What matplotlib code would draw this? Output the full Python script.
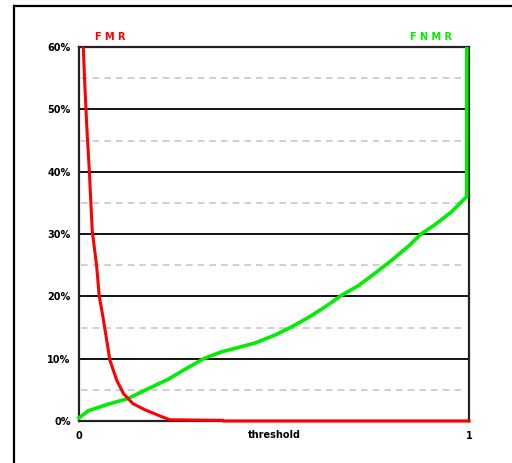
import numpy as np
import matplotlib
matplotlib.use("Agg")
import matplotlib.pyplot as plt
from matplotlib.lines import Line2D
from matplotlib.patches import Rectangle

# threshold values and error rates (%)
fmr_t = [0.0, 0.008, 0.011, 0.015, 0.021, 0.026, 0.030, 0.034, 0.045, 0.052, 0.060,
         0.071, 0.079, 0.097, 0.114, 0.138, 0.169, 0.212, 0.233, 0.369, 0.370, 1.0]
fmr = [100, 70, 60, 53.7, 46, 40.7, 35.5, 30.5, 25, 20.0, 17.2,
       13, 9.8, 6.5, 4.4, 2.8, 1.8, 0.7, 0.2, 0.1, 0.0, 0.0]

fnmr_t = [0.0, 0.024, 0.075, 0.126, 0.178, 0.229, 0.272, 0.323, 0.366, 0.409, 0.451,
          0.503, 0.545, 0.588, 0.631, 0.674, 0.716, 0.759, 0.802, 0.844, 0.879,
          0.913, 0.956, 0.994, 0.995]
fnmr = [0.5, 1.65, 2.7, 3.6, 5.2, 6.7, 8.3, 10.1, 11.1, 11.8, 12.5,
        13.8, 15.1, 16.6, 18.3, 20.2, 21.7, 23.7, 25.8, 28.0, 30.1,
        31.5, 33.6, 36.0, 100]

major_ticks = [0, 10, 20, 30, 40, 50, 60]
minor_lines = [5, 15, 25, 35, 45, 55]
ytick_labels = ["0%", "10%", "20%", "30%", "40%", "50%", "60%"]
xtick_vals = [0, 1]
xtick_labels = ["0", "1"]

W, H = 512, 463
fig = plt.figure(figsize=(W / 100, H / 100), dpi=100)
fig.patch.set_facecolor("white")

# outer frame (left and top edges visible)
fig.add_artist(Line2D([13.5 / W, 13.5 / W], [0, 1 - 5.5 / H], transform=fig.transFigure,
                      color="black", lw=1.6))
fig.add_artist(Line2D([13.5 / W, 1], [1 - 5.5 / H, 1 - 5.5 / H], transform=fig.transFigure,
                      color="black", lw=1.6))

left, right = 79 / W, 469 / W
bottom, top = 1 - 421 / H, 1 - 47 / H
ax = fig.add_axes([left, bottom, right - left, top - bottom])
ax.set_xlim(0, 1)
ax.set_ylim(0, 60)

for y in minor_lines:
    ax.axhline(y, xmin=0.005, xmax=0.99, color="#c8c8c8", lw=1.2, ls=(0, (4, 3)), zorder=1)
for y in major_ticks[1:-1]:
    ax.axhline(y, color="black", lw=1.3, zorder=1)

clip_rect = Rectangle((-0.01, -3), 1.02, 63, transform=ax.transData)
g, = ax.plot(fnmr_t, fnmr, color="#00ee00", lw=2.6,
             solid_joinstyle="miter", zorder=3)
r, = ax.plot(fmr_t, fmr, color="#ff0000", lw=2.2,
             solid_joinstyle="miter", zorder=4)
for ln in (g, r):
    ln.set_clip_path(clip_rect)

for s in ax.spines.values():
    s.set_linewidth(1.6)
    s.set_color("#222222")
    s.set_zorder(2)

ax.set_yticks(major_ticks)
ax.set_yticklabels(ytick_labels, fontsize=7, fontweight="bold", family="DejaVu Sans")
ax.set_xticks(xtick_vals)
ax.set_xticklabels(xtick_labels, fontsize=7, fontweight="bold", family="DejaVu Sans")
ax.tick_params(axis="y", length=0, pad=6)
ax.tick_params(axis="x", length=0, pad=7)

ax.text(0.5, -0.037, "threshold", transform=ax.transAxes, ha="center", va="center",
        fontsize=7, fontweight="bold", family="DejaVu Sans")
fig.text(110 / W, 1 - 37 / H, "F M R", color="#ff0000", ha="center", va="center",
         fontsize=7, fontweight="bold")
fig.text(431.5 / W, 1 - 37 / H, "F N M R", color="#00ee00", ha="center", va="center",
         fontsize=7, fontweight="bold")

fig.savefig("out.png", dpi=100)
